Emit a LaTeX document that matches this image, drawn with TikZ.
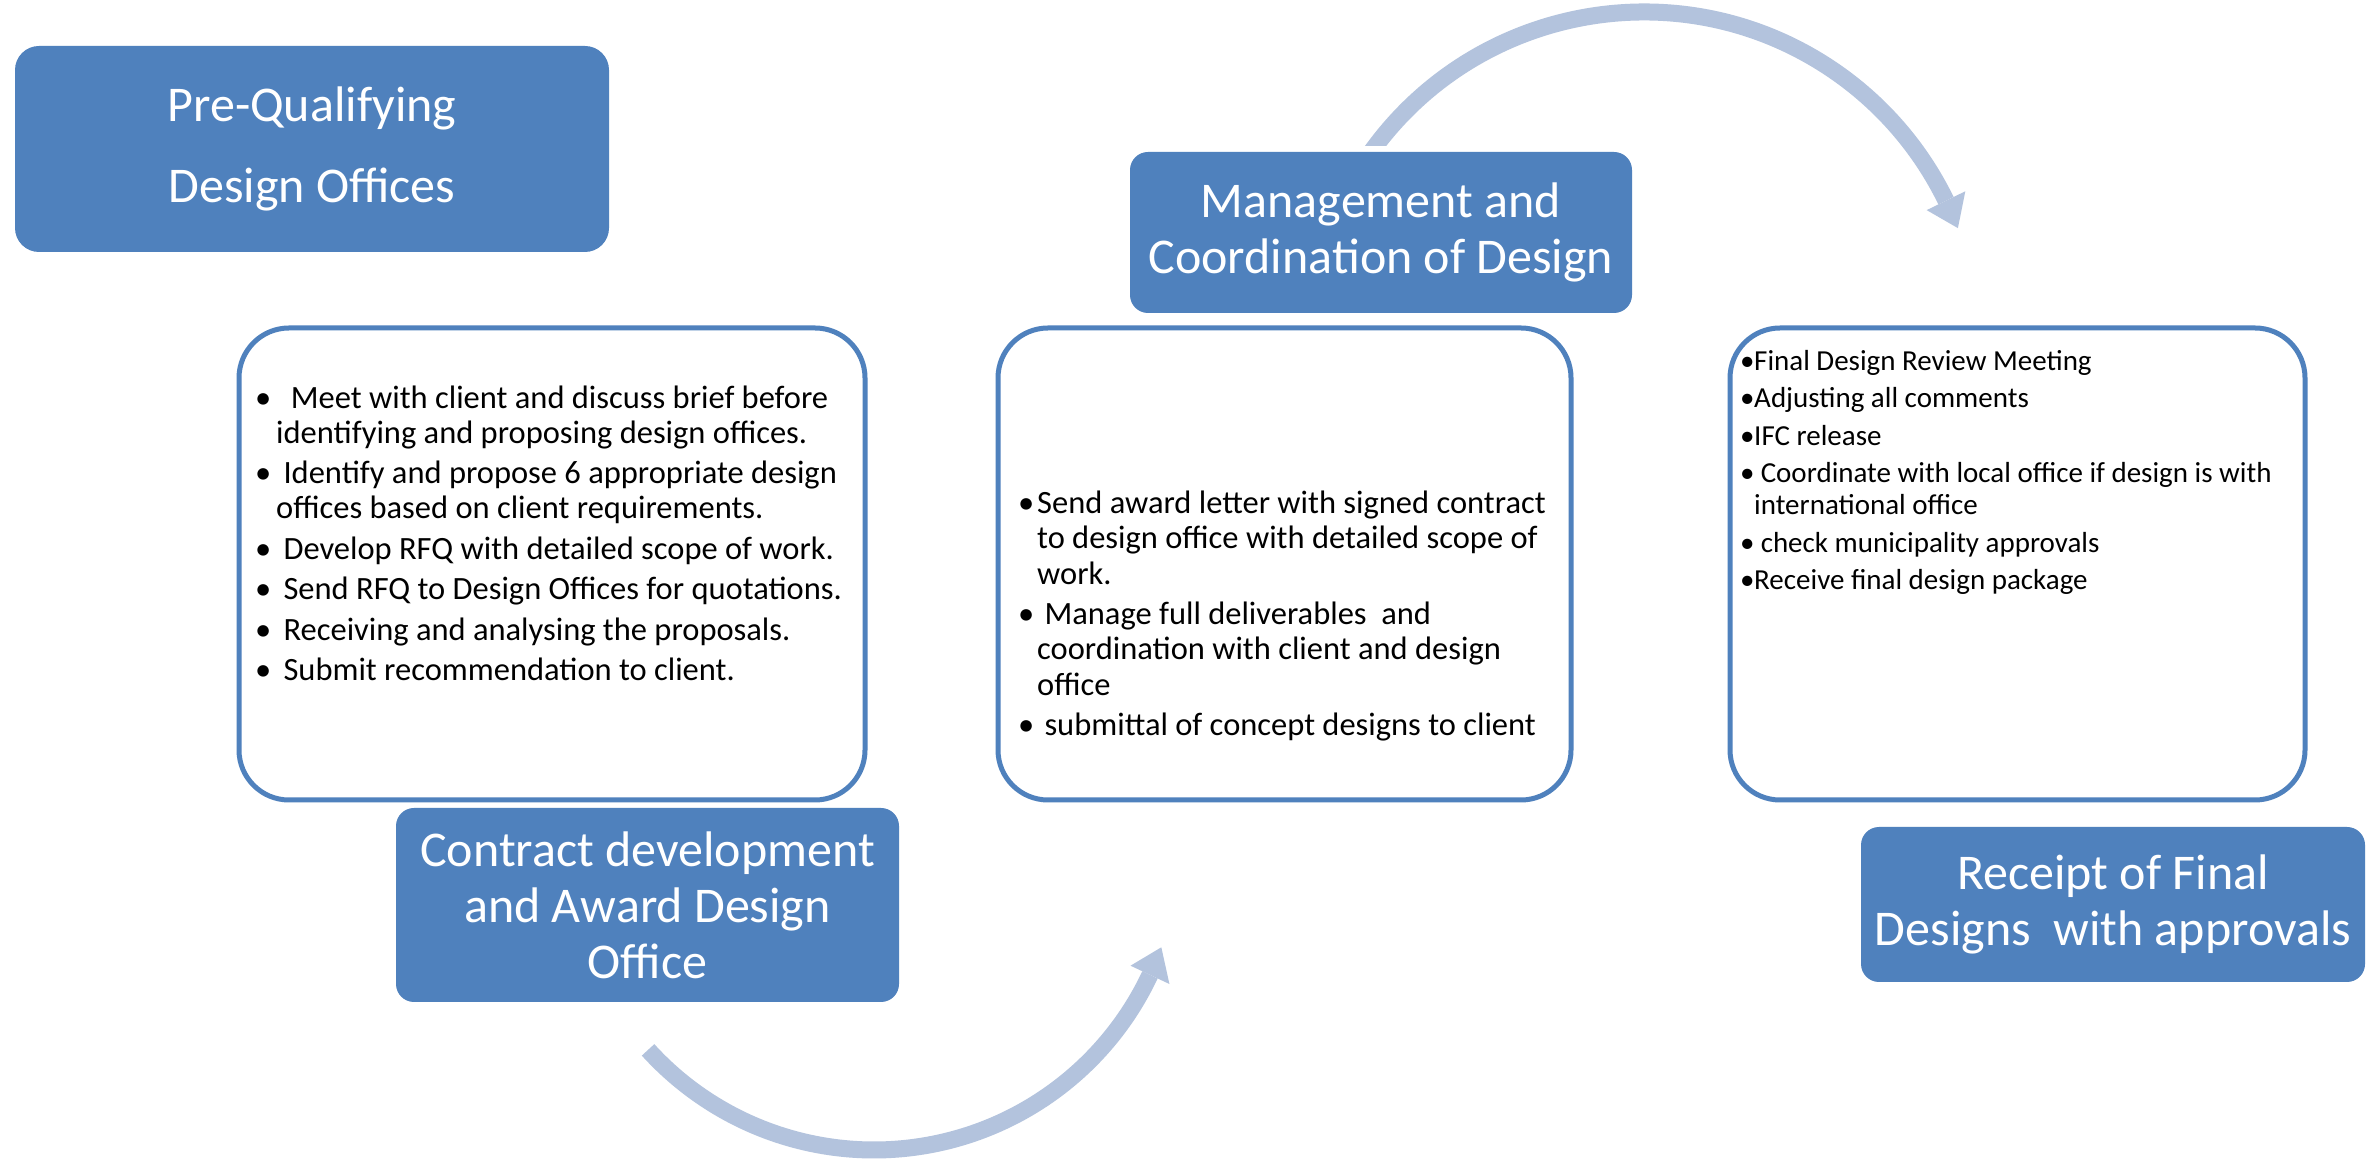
\documentclass[tikz,border=0pt]{standalone}
\usepackage{fontspec}
\setmainfont{Carlito}
\usetikzlibrary{calc}
\definecolor{accent}{RGB}{79,129,189}
\definecolor{arcblue}{RGB}{179,195,221}
\tikzset{
  titlebox/.style={fill=accent, draw=none, rounded corners=18pt, text=white, align=center,
    font=\fontsize{50}{56}\selectfont, inner sep=0pt},
  listbox/.style={draw=accent, line width=5pt, fill=white, rounded corners=50pt, inner sep=0pt},
  listtext/.style={anchor=north west, align=left, inner sep=0pt, text=black},
  flowarc/.style={draw=arcblue, line width=17pt},
  flowhead/.style={fill=arcblue, draw=none},
}
\newcommand{\bulA}{\makebox[21pt][l]{\textbullet}}
\newcommand{\bulB}{\makebox[19pt][l]{\textbullet}}
\newcommand{\bulC}{\makebox[14pt][l]{\textbullet}}
\begin{document}
\begin{tikzpicture}[x=1pt,y=1pt]
\useasboundingbox (0,0) rectangle (2379,1159);
\fill[white] (0,0) rectangle (2379,1159);

% arcs
\coordinate (c1) at (874,314);
\draw[flowarc] ($(c1)+(222.2:305)$) arc[start angle=222.2, end angle=334.8, radius=305];
\fill[flowhead] ($(c1)+(334.8:326.5)$) -- ($(c1)+(340.4:305)$) -- ($(c1)+(334.8:283.5)$) -- cycle;

\coordinate (c2) at (1644,811);
\begin{scope}
  \clip (0,1013) -- (1644,1013) -- (1644,0) -- (2379,0) -- (2379,1159) -- (0,1159) -- cycle;
  \draw[flowarc] ($(c2)+(146:336)$) arc[start angle=146, end angle=26, radius=336];
\end{scope}
\fill[flowhead] ($(c2)+(26:357.5)$) -- ($(c2)+(20.9:336)$) -- ($(c2)+(26:314.5)$) -- cycle;

% boxes
\node[titlebox, minimum width=594pt, minimum height=206pt, rounded corners=24pt] (pq) at (312,1010)
  {Pre-Qualifying\\[25pt]Design Offices};

\node[listbox, minimum width=626pt, minimum height=472pt] (b1) at (552,595) {};
\node[titlebox, minimum width=503pt, minimum height=194pt] (cd) at (647.5,254)
  {Contract development\\and Award Design\\Office};

\node[listbox, minimum width=573pt, minimum height=472pt] (b2) at (1284.5,595) {};
\node[titlebox, minimum width=502pt, minimum height=161pt] (mg) at (1381,926.5)
  {Management and\\Coordination of Design};

\node[listbox, minimum width=575pt, minimum height=472pt] (b3) at (2017.5,595) {};
\node[titlebox, minimum width=504pt, minimum height=155pt] (rf) at (2113,254.5)
  {Receipt of Final\\Designs\ \ with approvals};

% list texts
\node[listtext, font=\fontsize{32.5}{35}\selectfont] (t1) at (255,781) {%
\rule{0pt}{30pt}\bulA\ \ Meet with client and discuss brief before\\
\hspace*{21pt}identifying and proposing design offices.\\[5.5pt]
\bulA\ Identify and propose 6 appropriate design\\
\hspace*{21pt}offices based on client requirements.\\[5.5pt]
\bulA\ Develop RFQ with detailed scope of work.\\[5.5pt]
\bulA\ Send RFQ to Design Offices for quotations.\\[5.5pt]
\bulA\ Receiving and analysing the proposals.\\[5.5pt]
\bulA\ Submit recommendation to client.};

\node[listtext, font=\fontsize{32.5}{35.5}\selectfont] (t2) at (1018,676) {%
\rule{0pt}{30pt}\bulB Send award letter with signed contract\\
\hspace*{19pt}to design office with detailed scope of\\
\hspace*{19pt}work.\\[4.5pt]
\bulB\ Manage full deliverables\ \ and\\
\hspace*{19pt}coordination with client and design\\
\hspace*{19pt}office\\[4.5pt]
\bulB\ submittal of concept designs to client};

\node[listtext, font=\fontsize{29}{32}\selectfont] (t3) at (1740,816) {%
\rule{0pt}{27pt}\bulC Final Design Review Meeting\\[5.5pt]
\bulC Adjusting all comments\\[5.5pt]
\bulC IFC release\\[5.5pt]
\bulC\ Coordinate with local office if design is with\\
\hspace*{14pt}international office\\[5.5pt]
\bulC\ check municipality approvals\\[5.5pt]
\bulC Receive final design package};
\end{tikzpicture}
\end{document}
